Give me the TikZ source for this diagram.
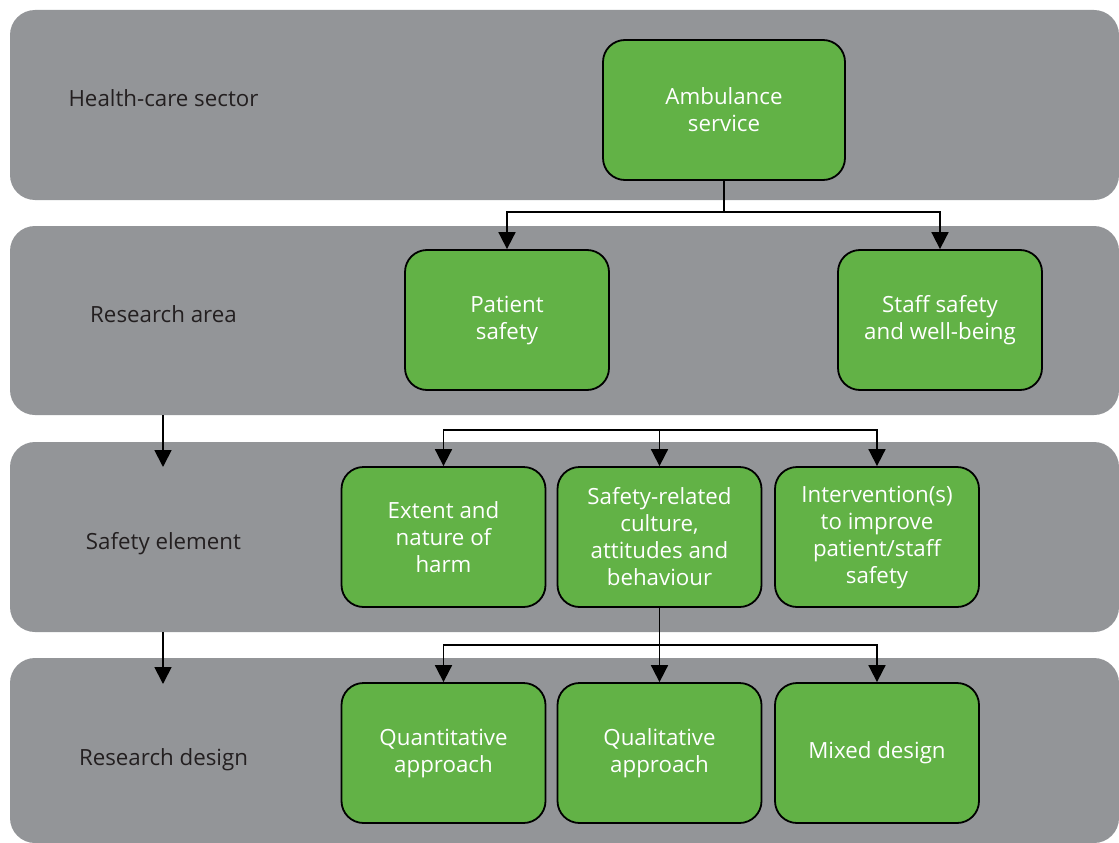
\documentclass[tikz,border=0pt]{standalone}
\usepackage{fontspec}
\setmainfont{Open Sans}
\usetikzlibrary{arrows.meta}
\definecolor{bandgray}{HTML}{939598}
\definecolor{boxgreen}{HTML}{62B246}
\definecolor{labeltext}{HTML}{231F20}
\tikzset{
  band/.style={fill=bandgray, draw=none, rounded corners=25pt},
  greenbox/.style={draw=black, line width=1.8pt, fill=boxgreen, rounded corners=22pt,
    minimum width=204pt, minimum height=140pt, align=center, text=white,
    font=\fontsize{22.3}{27}\selectfont, inner sep=0pt},
  bandlabel/.style={text=labeltext, font=\fontsize{22.3}{27}\selectfont, anchor=center},
  conn/.style={line width=1.8pt, draw=black},
  arr/.style={conn, -{Triangle[width=17pt,length=17pt]}},
}
\begin{document}
\begin{tikzpicture}[x=1pt,y=-1pt]
\useasboundingbox (0,0) rectangle (1119,843);
% bands
\path[band] (10,10) rectangle (1119,200);
\path[band] (10,226) rectangle (1119,415);
\path[band] (10,442) rectangle (1119,632);
\path[band] (10,658) rectangle (1119,843);
% labels
\node[bandlabel] (l1) at (163.5,98) {Health-care sector};
\node[bandlabel] (l2) at (163.5,314) {Research area};
\node[bandlabel] (l3) at (163.5,544) {Safety element};
\node[bandlabel] (l4) at (163.5,760) {Research design};
% boxes
\node[greenbox, minimum width=242pt] (amb) at (724,110) {Ambulance\\service};
\node[greenbox] (pat) at (507,320) {Patient\\safety};
\node[greenbox] (staff) at (940,320) {Staff safety\\and well-being};
\node[greenbox] (ext) at (443.5,537) {Extent and\\nature of\\harm};
\node[greenbox] (cult) at (659.5,537) {Safety-related\\culture,\\attitudes and\\behaviour};
\node[greenbox] (int) at (877,537) {Intervention(s)\\to improve\\patient/staff\\safety};
\node[greenbox] (quan) at (443.5,753) {Quantitative\\approach};
\node[greenbox] (qual) at (659.5,753) {Qualitative\\approach};
\node[greenbox] (mix) at (877,753) {Mixed design};
% connectors row 1 -> row 2
\coordinate (j1) at (724,212);
\draw[conn] (amb.south) -- (j1);
\draw[arr] (j1) -| (pat.north);
\draw[arr] (j1) -| (staff.north);
% row 3 bracket
\coordinate (j2) at (659.5,430);
\draw[arr] (j2) -| (ext.north);
\draw[arr] (j2) -- (cult.north);
\draw[arr] (j2) -| (int.north);
% row 4
\coordinate (j3) at (659.5,645);
\draw[conn] (cult.south) -- (j3);
\draw[arr] (j3) -| (quan.north);
\draw[arr] (j3) -- (qual.north);
\draw[arr] (j3) -| (mix.north);
% left side arrows
\coordinate (s2) at (163,415);
\coordinate (e2) at (163,467);
\coordinate (s3) at (163,632);
\coordinate (e3) at (163,684);
\draw[arr] (s2) -- (e2);
\draw[arr] (s3) -- (e3);
\end{tikzpicture}
\end{document}
